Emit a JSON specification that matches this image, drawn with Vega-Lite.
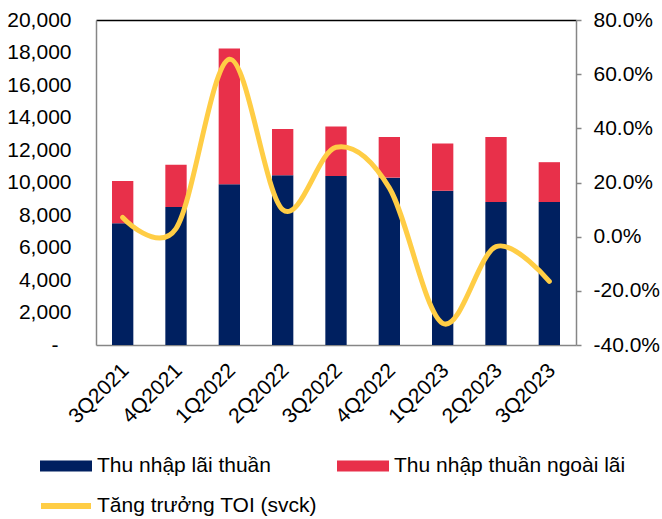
{
  "$schema": "https://vega.github.io/schema/vega-lite/v6.json",
  "autosize": {"type": "none"},
  "padding": {"left": 96, "top": 20, "right": 86, "bottom": 174},
  "width": 480,
  "height": 325,
  "background": "white",
  "config": {
    "view": {"stroke": null},
    "font": "Liberation Sans",
    "axis": {"labelFont": "Liberation Sans", "labelColor": "#000000", "grid": false},
    "legend": {"labelFont": "Liberation Sans", "labelColor": "#000000"}
  },
  "datasets": {
    "bars": [
      {"quarter": "3Q2021", "series": "Thu nhập lãi thuần", "value": 7500},
      {"quarter": "3Q2021", "series": "Thu nhập thuần ngoài lãi", "value": 2600},
      {"quarter": "4Q2021", "series": "Thu nhập lãi thuần", "value": 8500},
      {"quarter": "4Q2021", "series": "Thu nhập thuần ngoài lãi", "value": 2600},
      {"quarter": "1Q2022", "series": "Thu nhập lãi thuần", "value": 9900},
      {"quarter": "1Q2022", "series": "Thu nhập thuần ngoài lãi", "value": 8350},
      {"quarter": "2Q2022", "series": "Thu nhập lãi thuần", "value": 10450},
      {"quarter": "2Q2022", "series": "Thu nhập thuần ngoài lãi", "value": 2850},
      {"quarter": "3Q2022", "series": "Thu nhập lãi thuần", "value": 10400},
      {"quarter": "3Q2022", "series": "Thu nhập thuần ngoài lãi", "value": 3050},
      {"quarter": "4Q2022", "series": "Thu nhập lãi thuần", "value": 10300},
      {"quarter": "4Q2022", "series": "Thu nhập thuần ngoài lãi", "value": 2500},
      {"quarter": "1Q2023", "series": "Thu nhập lãi thuần", "value": 9500},
      {"quarter": "1Q2023", "series": "Thu nhập thuần ngoài lãi", "value": 2900},
      {"quarter": "2Q2023", "series": "Thu nhập lãi thuần", "value": 8800},
      {"quarter": "2Q2023", "series": "Thu nhập thuần ngoài lãi", "value": 4000},
      {"quarter": "3Q2023", "series": "Thu nhập lãi thuần", "value": 8800},
      {"quarter": "3Q2023", "series": "Thu nhập thuần ngoài lãi", "value": 2450}
    ],
    "growth": [
      {"quarter": "3Q2021", "growth": 0.071},
      {"quarter": "4Q2021", "growth": 0.03},
      {"quarter": "1Q2022", "growth": 0.655},
      {"quarter": "2Q2022", "growth": 0.10},
      {"quarter": "3Q2022", "growth": 0.33},
      {"quarter": "4Q2022", "growth": 0.18},
      {"quarter": "1Q2023", "growth": -0.32},
      {"quarter": "2Q2023", "growth": -0.037},
      {"quarter": "3Q2023", "growth": -0.165}
    ]
  },
  "layer": [
    {
      "data": {"name": "bars"},
      "mark": {"type": "bar"},
      "encoding": {
        "x": {
          "field": "quarter", "type": "nominal", "sort": null,
          "scale": {"paddingInner": 0.6, "paddingOuter": 0.3},
          "axis": {
            "orient": "bottom",
            "title": null, "labelAngle": -45, "labelAlign": "right", "labelBaseline": "middle",
            "ticks": false, "tickSize": 0, "domainColor": "#868686", "domainWidth": 1.5,
            "labelFontSize": 21, "labelOffset": 3, "labelPadding": 22
          }
        },
        "y": {
          "field": "value", "type": "quantitative", "stack": "zero",
          "scale": {"domain": [0, 20000], "nice": false},
          "axis": {
            "orient": "left", "title": null,
            "values": [0, 2000, 4000, 6000, 8000, 10000, 12000, 14000, 16000, 18000, 20000],
            "labelExpr": "datum.value === 0 ? '-' : format(datum.value, ',')",
            "labelOverlap": false,
            "ticks": false, "tickSize": 0, "domainColor": "#868686", "domainWidth": 1.5,
            "labelFontSize": 21,
            "labelPadding": {"condition": {"test": "datum.value === 0", "value": 38}, "value": 25}
          }
        },
        "color": {
          "field": "series", "type": "nominal",
          "scale": {"domain": ["Thu nhập lãi thuần", "Thu nhập thuần ngoài lãi"], "range": ["#002060", "#E8304A"]},
          "legend": {
            "orient": "none", "legendX": -56, "legendY": 420, "direction": "horizontal",
            "title": null, "symbolType": "M-1,-0.21H1V0.21H-1Z", "symbolSize": 2704,
            "symbolStrokeWidth": 0, "symbolOpacity": 1, "labelFontSize": 21, "columnPadding": 66,
            "labelOffset": 5, "padding": 0, "labelLimit": 400
          }
        },
        "order": {"field": "series", "sort": "ascending"}
      }
    },
    {
      "data": {"name": "growth"},
      "mark": {"type": "line", "interpolate": "cardinal", "strokeWidth": 5, "strokeCap": "round", "strokeJoin": "round"},
      "encoding": {
        "x": {
          "field": "quarter", "type": "nominal", "sort": null,
          "axis": {
            "orient": "top", "title": null, "labels": false, "ticks": false,
            "domainColor": "#000000", "domainWidth": 1.5
          }
        },
        "y": {
          "field": "growth", "type": "quantitative",
          "scale": {"domain": [-0.4, 0.8], "nice": false},
          "axis": {
            "orient": "right", "title": null,
            "values": [-0.4, -0.2, 0, 0.2, 0.4, 0.6, 0.8],
            "labelExpr": "replace(format(datum.value, '.1%'), '\u2212', '-')",
            "labelOverlap": false,
            "tickSize": 5, "tickColor": "#868686", "tickWidth": 1.5,
            "domainColor": "#868686", "domainWidth": 1.5,
            "labelFontSize": 21, "labelPadding": 12
          }
        },
        "stroke": {
          "datum": "Tăng trưởng TOI (svck)", "type": "nominal",
          "scale": {"range": ["#FFCD45"]},
          "legend": {
            "orient": "none", "legendX": -58, "legendY": 458, "title": null,
            "symbolType": "stroke", "symbolSize": 2500, "symbolStrokeWidth": 6,
            "labelFontSize": 21, "labelOffset": 3, "padding": 0, "labelLimit": 400
          }
        }
      }
    }
  ],
  "resolve": {"scale": {"y": "independent"}, "axis": {"x": "independent"}}
}
